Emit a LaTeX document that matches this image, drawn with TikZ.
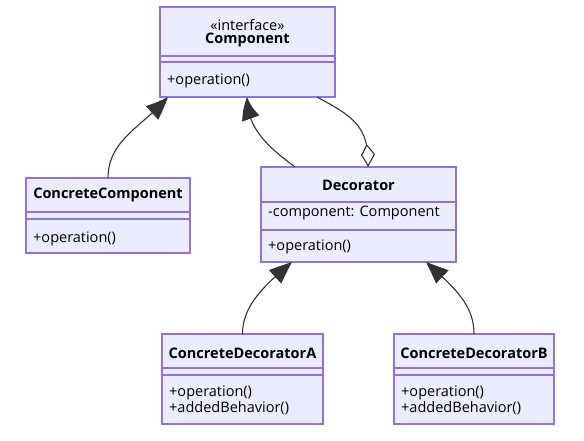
\documentclass[tikz,border=0pt]{standalone}
\usepackage{fontspec}
\setmainfont{Open Sans}
\usetikzlibrary{arrows.meta,bending}
\definecolor{boxfill}{HTML}{ECECFF}
\definecolor{boxline}{HTML}{9370DB}
\definecolor{edgecol}{HTML}{333333}
\begin{document}
\begin{tikzpicture}[x=1pt,y=-1pt,
  box/.style={draw=boxline, fill=boxfill, line width=1.2pt, inner sep=0pt, outer sep=0pt, anchor=north west},
  divline/.style={draw=boxline, line width=1.2pt},
  title/.style={font=\fontsize{14.5}{16}\selectfont\bfseries, text=black, inner sep=0pt},
  stereo/.style={font=\fontsize{14.5}{16}\selectfont, text=black, inner sep=0pt},
  member/.style={font=\fontsize{14.5}{16}\selectfont, text=black, inner sep=0pt, anchor=west},
  inh/.style={draw=edgecol, line width=1.1pt, -{Triangle[length=23pt,width=18pt,bend,fill=edgecol]}},
  agg/.style={draw=edgecol, line width=1.1pt, -{Diamond[length=25pt,width=14pt,bend,fill=white]}}
]
\path[use as bounding box] (0,0) rectangle (584,440);
\fill[white] (0,0) rectangle (584,440);

% Component
\node[box, minimum width=175pt, minimum height=90pt] (comp) at (160,7) {};
\draw[divline] (160,56) -- (335,56);
\draw[divline] (160,62) -- (335,62);
\node[stereo] (compS) at (247.5,25) {«interface»};
\node[title] (compT) at (247.5,40) {Component};
\node[member] (compM) at (167,81) {+operation()};

% ConcreteComponent
\node[box, minimum width=164pt, minimum height=75pt] (cc) at (26,178) {};
\draw[divline] (26,212) -- (190,212);
\draw[divline] (26,219) -- (190,219);
\node[title] (ccT) at (108,195) {ConcreteComponent};
\node[member] (ccM) at (33,239) {+operation()};

% Decorator
\node[box, minimum width=195pt, minimum height=95pt] (dec) at (261,167) {};
\draw[divline] (261,202) -- (456,202);
\draw[divline] (261,230) -- (456,230);
\node[title] (decT) at (358.5,185) {Decorator};
\node[member] (decA) at (268,213) {-component: Component};
\node[member] (decM) at (268,247) {+operation()};

% ConcreteDecoratorA
\node[box, minimum width=161pt, minimum height=90pt] (cda) at (162,334) {};
\draw[divline] (162,368) -- (323,368);
\draw[divline] (162,375) -- (323,375);
\node[title] (cdaT) at (242.5,353) {ConcreteDecoratorA};
\node[member] (cdaM1) at (169,393) {+operation()};
\node[member] (cdaM2) at (169,408) {+addedBehavior()};

% ConcreteDecoratorB
\node[box, minimum width=160pt, minimum height=90pt] (cdb) at (394,334) {};
\draw[divline] (394,368) -- (554,368);
\draw[divline] (394,375) -- (554,375);
\node[title] (cdbT) at (474,353) {ConcreteDecoratorB};
\node[member] (cdbM1) at (401,393) {+operation()};
\node[member] (cdbM2) at (401,408) {+addedBehavior()};

% Edges
\draw[inh] (cc.north) .. controls ++(0,-38) and ++(-26,30) .. ([xshift=-79.5pt]comp.south);
\draw[inh] ([xshift=-63.5pt]dec.north) .. controls ++(-25,-19) and ++(0,33) .. ([xshift=-0.5pt]comp.south);
\draw[agg] ([xshift=69.5pt]comp.south) .. controls ++(33,18) and ++(2,-42) .. ([xshift=9.5pt]dec.north);
\draw[inh] (cda.north) .. controls ++(0,-29) and ++(-27,23) .. ([xshift=-66.5pt]dec.south);
\draw[inh] (cdb.north) .. controls ++(0,-29) and ++(29,26) .. ([xshift=67.5pt]dec.south);
\end{tikzpicture}
\end{document}
